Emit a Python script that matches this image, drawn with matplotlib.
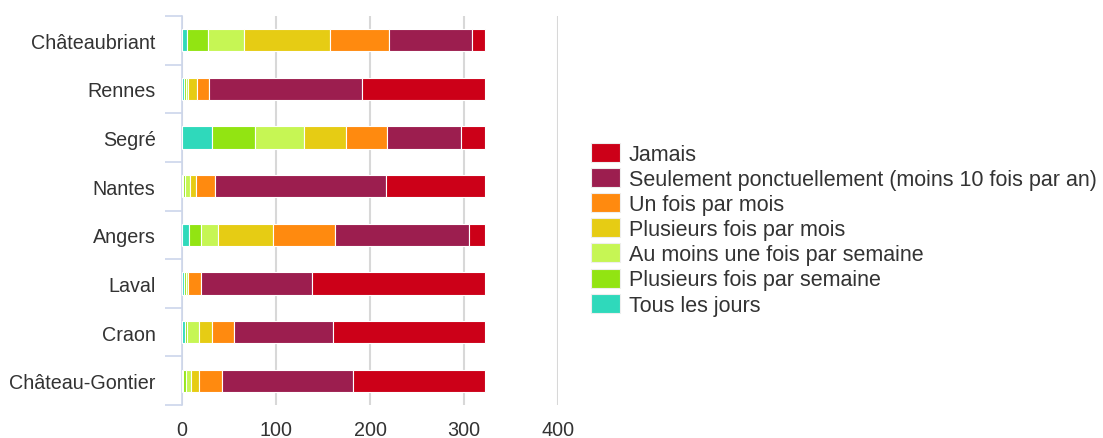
import numpy as np
import matplotlib
matplotlib.use('Agg')
import matplotlib.pyplot as plt
from matplotlib.patches import Patch

plt.rcParams['font.family'] = ['Liberation Sans', 'DejaVu Sans']

villes = ['Châteaubriant', 'Rennes', 'Segré', 'Nantes', 'Angers', 'Laval', 'Craon', 'Château-Gontier']

# stack order, left to right
tous_les_jours = [5, 2, 32, 1, 7, 2, 3, 1]
plusieurs_semaine = [23, 2, 46, 2, 13, 2, 2, 3]
une_fois_semaine = [38, 2, 52, 6, 18, 2, 13, 6]
plusieurs_mois = [91, 10, 44, 6, 59, 0, 14, 8]
un_fois_mois = [63, 13, 44, 20, 66, 14, 23, 25]
ponctuellement = [89, 163, 79, 182, 142, 118, 106, 139]
jamais = [13, 130, 25, 105, 17, 184, 161, 140]

series = [
    ('Tous les jours', tous_les_jours, '#2fd9bb'),
    ('Plusieurs fois par semaine', plusieurs_semaine, '#92e412'),
    ('Au moins une fois par semaine', une_fois_semaine, '#c6f654'),
    ('Plusieurs fois par mois', plusieurs_mois, '#e6cc14'),
    ('Un fois par mois', un_fois_mois, '#ff8a0f'),
    ('Seulement ponctuellement (moins 10 fois par an)', ponctuellement, '#9c1e4f'),
    ('Jamais', jamais, '#cc0018'),
]

fig = plt.figure(figsize=(11.03, 4.39), dpi=100)
ax = fig.add_axes([182 / 1103, 1 - 406 / 439, 376 / 1103, 389 / 439])

y = np.arange(len(villes))
left = np.zeros(len(villes))
for name, vals, col in series:
    vals = np.array(vals, dtype=float)
    ax.barh(y, vals, left=left, height=0.46, color=col, edgecolor='white', linewidth=0.8, zorder=3)
    left += vals

ax.set_xlim(0, 400)
ax.set_ylim(len(villes) - 0.5, -0.5)
ax.set_xticks([0, 100, 200, 300, 400])
ax.set_yticks(y)
ax.set_yticklabels(villes)
ax.set_yticks(np.arange(len(villes) + 1) - 0.5, minor=True)

ax.grid(axis='x', color='#d8d8d8', linewidth=1.5, zorder=0)
for s in ['top', 'right', 'bottom']:
    ax.spines[s].set_visible(False)
ax.spines['left'].set_color('#ccd6eb')
ax.spines['left'].set_linewidth(1.2)

ax.tick_params(axis='x', length=0, pad=11, labelsize=14.2, labelcolor='#333333')
ax.tick_params(axis='y', which='major', length=0, pad=19, labelsize=14.2, labelcolor='#333333')
ax.tick_params(axis='y', which='minor', length=12, width=1.2, color='#ccd6eb')

handles = [Patch(facecolor=col, edgecolor='#eeeeee', linewidth=0.8, label=name) for name, vals, col in series[::-1]]
fig.legend(handles=handles, loc='upper left', bbox_to_anchor=(591 / 1103, 1 - 144 / 439),
           frameon=False, fontsize=15.5, handlelength=1.35, handleheight=0.98,
           handletextpad=0.4, labelspacing=0.15, borderpad=0, borderaxespad=0,
           labelcolor='#333333')

fig.savefig('out.png', dpi=100)
